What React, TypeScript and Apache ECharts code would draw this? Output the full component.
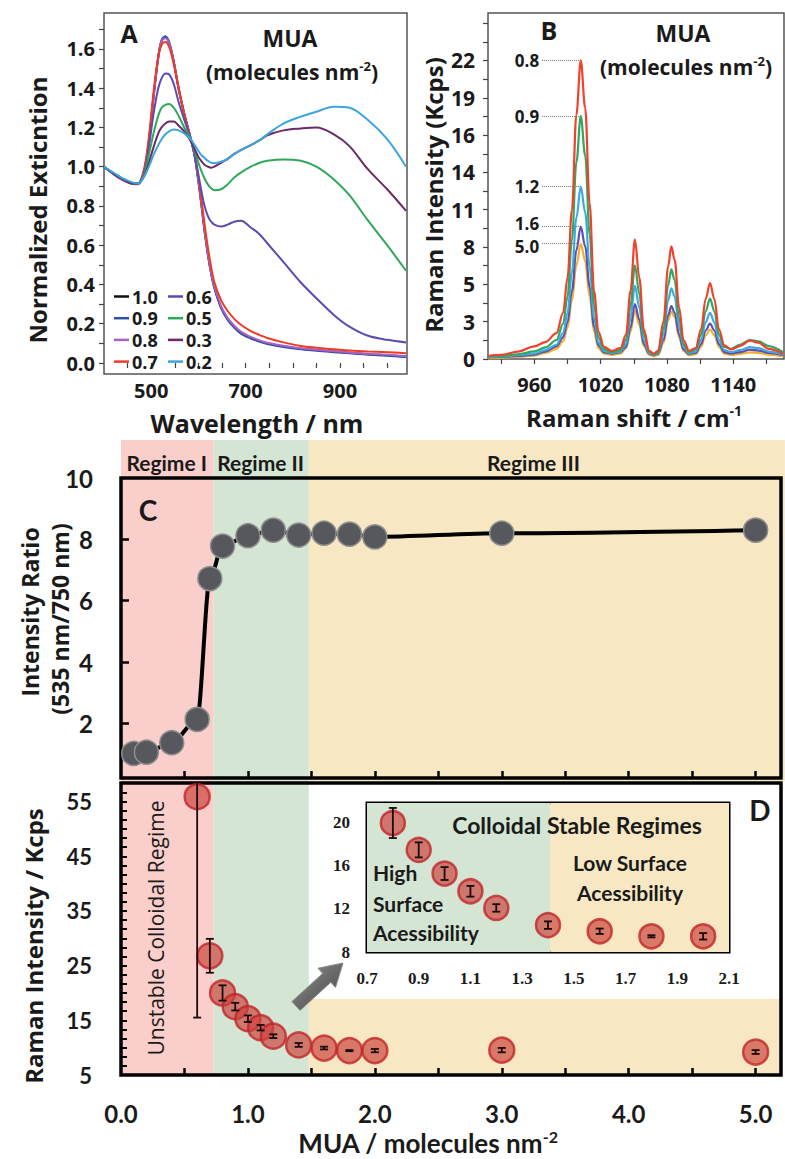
import React, { useEffect, useRef } from "react";
import * as echarts from "echarts";

// ---------------- Panel A: normalized extinction spectra ----------------
const wavelengths = [400, 420, 440, 460, 472, 485, 495, 505, 515, 522, 530, 538, 548, 558, 570, 584, 592, 600, 606, 613, 620, 627, 634, 648, 662, 676, 690, 711, 730, 746, 780, 817, 850, 887, 920, 958, 1000, 1040];
const ext10 = [1.0, 0.965, 0.935, 0.915, 0.915, 0.98, 1.13, 1.36, 1.56, 1.64, 1.66, 1.63, 1.53, 1.40, 1.27, 1.14, 1.06, 0.93, 0.82, 0.68, 0.56, 0.46, 0.385, 0.285, 0.225, 0.185, 0.155, 0.13, 0.112, 0.10, 0.085, 0.073, 0.066, 0.058, 0.052, 0.045, 0.04, 0.033];
const ext09 = [1.0, 0.965, 0.935, 0.915, 0.912, 0.975, 1.12, 1.35, 1.56, 1.645, 1.665, 1.635, 1.535, 1.40, 1.27, 1.14, 1.055, 0.925, 0.81, 0.67, 0.55, 0.455, 0.38, 0.28, 0.22, 0.18, 0.15, 0.125, 0.108, 0.097, 0.082, 0.07, 0.063, 0.055, 0.05, 0.043, 0.037, 0.03];
const ext08 = [1.0, 0.962, 0.93, 0.912, 0.91, 0.975, 1.125, 1.355, 1.555, 1.64, 1.655, 1.628, 1.53, 1.40, 1.27, 1.14, 1.06, 0.93, 0.82, 0.68, 0.56, 0.46, 0.39, 0.29, 0.23, 0.19, 0.16, 0.133, 0.115, 0.103, 0.088, 0.075, 0.068, 0.06, 0.054, 0.047, 0.042, 0.035];
const ext07 = [1.0, 0.965, 0.935, 0.915, 0.915, 0.99, 1.15, 1.38, 1.56, 1.62, 1.635, 1.61, 1.52, 1.40, 1.27, 1.14, 1.065, 0.945, 0.84, 0.71, 0.59, 0.49, 0.41, 0.32, 0.265, 0.225, 0.195, 0.163, 0.142, 0.127, 0.105, 0.087, 0.078, 0.07, 0.064, 0.059, 0.055, 0.05];
const ext06 = [1.0, 0.965, 0.935, 0.915, 0.915, 0.97, 1.1, 1.27, 1.40, 1.45, 1.475, 1.47, 1.42, 1.33, 1.24, 1.14, 1.06, 0.96, 0.88, 0.80, 0.75, 0.72, 0.705, 0.695, 0.705, 0.72, 0.725, 0.69, 0.655, 0.61, 0.515, 0.41, 0.33, 0.245, 0.185, 0.14, 0.118, 0.105];
const ext05 = [1.0, 0.965, 0.935, 0.915, 0.915, 0.96, 1.06, 1.17, 1.26, 1.30, 1.315, 1.32, 1.30, 1.26, 1.20, 1.14, 1.08, 1.02, 0.98, 0.94, 0.91, 0.89, 0.88, 0.885, 0.91, 0.945, 0.97, 1.0, 1.02, 1.03, 1.037, 1.03, 1.0, 0.935, 0.855, 0.73, 0.6, 0.47];
const ext03 = [1.0, 0.965, 0.935, 0.915, 0.915, 0.95, 1.02, 1.10, 1.17, 1.20, 1.22, 1.23, 1.23, 1.21, 1.18, 1.13, 1.09, 1.05, 1.03, 1.01, 1.0, 0.995, 1.0, 1.02, 1.04, 1.065, 1.085, 1.11, 1.135, 1.16, 1.185, 1.195, 1.2, 1.165, 1.105, 0.99, 0.885, 0.775];
const ext02 = [1.0, 0.97, 0.94, 0.92, 0.915, 0.95, 1.0, 1.06, 1.11, 1.14, 1.165, 1.18, 1.19, 1.185, 1.17, 1.14, 1.11, 1.08, 1.06, 1.045, 1.03, 1.02, 1.018, 1.025, 1.04, 1.065, 1.085, 1.11, 1.135, 1.165, 1.22, 1.255, 1.28, 1.305, 1.30, 1.24, 1.14, 1.0];
const extLabels = ["1.0", "0.9", "0.8", "0.7", "0.6", "0.5", "0.3", "0.2"];
const extColors = ["#111111", "#2f4fa8", "#a862c4", "#f03a24", "#5b4bb0", "#2fa85a", "#6c2a66", "#3aa5df"];

// ---------------- Panel B: Raman spectra ----------------
const ramanShift = [918, 930, 945, 960, 970, 980, 986, 990, 994, 998, 1002, 1006, 1010, 1014, 1018, 1023, 1030, 1038, 1043, 1047, 1051, 1055, 1059, 1064, 1068, 1072, 1077, 1081, 1084, 1087, 1091, 1095, 1100, 1106, 1111, 1115, 1119, 1123, 1127, 1132, 1138, 1146, 1155, 1163, 1172, 1185];
const raman08 = [0.22, 0.3, 0.55, 0.93, 1.25, 1.9, 3.4, 6.0, 11.0, 18.0, 22.0, 18.5, 11.5, 5.0, 2.0, 0.9, 0.6, 0.8, 1.8, 5.0, 8.8, 6.0, 2.2, 0.6, 0.4, 0.6, 2.8, 6.8, 8.3, 7.3, 3.8, 1.4, 0.6, 0.8, 2.2, 4.4, 5.6, 4.4, 2.2, 1.0, 0.7, 0.95, 1.35, 1.2, 0.75, 0.4];
const raman09 = [0.18, 0.22, 0.35, 0.56, 0.85, 1.4, 2.6, 4.6, 8.8, 14.5, 17.9, 15.0, 9.2, 4.0, 1.6, 0.75, 0.5, 0.65, 1.4, 3.9, 6.9, 4.8, 1.8, 0.55, 0.35, 0.5, 2.2, 5.4, 6.6, 5.8, 3.0, 1.1, 0.5, 0.7, 1.8, 3.5, 4.45, 3.5, 1.8, 0.9, 0.75, 1.05, 1.4, 1.3, 0.95, 0.5];
const raman12 = [0.15, 0.18, 0.28, 0.4, 0.65, 1.05, 1.9, 3.4, 6.4, 10.4, 12.7, 10.8, 6.8, 3.0, 1.2, 0.6, 0.45, 0.55, 1.1, 3.0, 5.4, 3.8, 1.4, 0.45, 0.3, 0.45, 1.8, 4.3, 5.2, 4.6, 2.4, 0.9, 0.4, 0.55, 1.4, 2.7, 3.4, 2.7, 1.4, 0.65, 0.5, 0.65, 0.88, 0.8, 0.55, 0.35];
const raman16 = [0.12, 0.15, 0.22, 0.32, 0.55, 0.93, 1.6, 2.7, 5.0, 8.0, 9.75, 8.3, 5.3, 2.4, 1.0, 0.5, 0.4, 0.5, 0.9, 2.3, 4.05, 2.9, 1.1, 0.4, 0.28, 0.4, 1.4, 3.2, 3.9, 3.4, 1.8, 0.7, 0.35, 0.45, 1.1, 2.1, 2.6, 2.1, 1.1, 0.5, 0.4, 0.5, 0.69, 0.62, 0.45, 0.3];
const raman50 = [0.08, 0.1, 0.16, 0.25, 0.45, 0.74, 1.3, 2.3, 4.3, 6.9, 8.5, 7.2, 4.6, 2.0, 0.8, 0.4, 0.3, 0.4, 0.8, 2.0, 3.58, 2.5, 0.95, 0.3, 0.2, 0.3, 1.2, 2.85, 3.5, 3.1, 1.6, 0.6, 0.28, 0.35, 0.9, 1.75, 2.16, 1.75, 0.9, 0.4, 0.3, 0.38, 0.49, 0.45, 0.32, 0.2];
const ramanLabels = ["5.0", "1.6", "1.2", "0.9", "0.8"];
const ramanPeaks = [8.5, 9.75, 12.7, 17.9, 22.0];
const ramanColors = ["#f4b02e", "#5c4fb0", "#3fa8e2", "#2fa860", "#f2402a"];
const ramanTickText = ["0", "3", "5", "8", "11", "14", "16", "19", "22"];

// ---------------- Panel C: intensity ratio ----------------
const coverageC = [0.1, 0.2, 0.4, 0.6, 0.7, 0.8, 1.0, 1.2, 1.4, 1.6, 1.8, 2.0, 3.0, 5.0];
const ratioC = [1.02, 1.06, 1.37, 2.13, 6.72, 7.78, 8.12, 8.3, 8.14, 8.2, 8.17, 8.08, 8.2, 8.3];

// ---------------- Panel D: Raman intensity ----------------
const coverageD = [0.6, 0.7, 0.8, 0.9, 1.0, 1.1, 1.2, 1.4, 1.6, 1.8, 2.0, 3.0, 5.0];
const ramanD = [55.9, 26.8, 20.0, 17.5, 15.3, 13.65, 12.1, 10.5, 9.93, 9.46, 9.46, 9.55, 9.2];
const errD = [40.4, 3.1, 1.4, 0.7, 0.6, 0.5, 0.35, 0.35, 0.25, 0.1, 0.3, 0.4, 0.35];

// regimes
const regimeEdges = [0, 0.73, 1.48, 5.23];
const regimeNames = ["Regime I", "Regime II", "Regime III"];
const regimeLabelX = [0.36, 1.1, 3.25];
const regimeColors = ["#f9cecb", "#d5e5d3", "#f7e8c3"];
const tanTopD = 18.9;
const insetEdges = [0.7, 1.41, 2.1];

const OS = "'Open Sans', sans-serif";
const LT = "Lato, sans-serif";
const SF = "'Liberation Serif', serif";
const INK = "#1a1a1a";

const steps = (a: number, b: number, s: number) => {
  const r: number[] = [];
  for (let i = 0; a + i * s <= b + 1e-9; i++) r.push(+(a + i * s).toFixed(4));
  return r;
};

const labA = { fontFamily: OS, fontWeight: "bold" as const, fontSize: 20, color: INK };
const labC = { fontFamily: LT, fontWeight: "bold" as const, fontSize: 23, color: INK };
const labIn = { fontFamily: SF, fontWeight: "bold" as const, fontSize: 17, color: INK };

function errorRender(cap: number) {
  return (params: any, api: any) => {
    const x = api.value(0);
    const lo = api.coord([x, api.value(1)]);
    const hi = api.coord([x, api.value(2)]);
    const cs = params.coordSys;
    const top = Math.max(hi[1], cs.y);
    const bot = Math.min(lo[1], cs.y + cs.height);
    const st = { stroke: "#1b0a0a", lineWidth: 1.8 };
    const ch: any[] = [{ type: "line", shape: { x1: lo[0], y1: top, x2: lo[0], y2: bot }, style: st }];
    if (hi[1] >= cs.y) ch.push({ type: "line", shape: { x1: lo[0] - cap, y1: hi[1], x2: lo[0] + cap, y2: hi[1] }, style: st });
    if (lo[1] <= cs.y + cs.height) ch.push({ type: "line", shape: { x1: lo[0] - cap, y1: lo[1], x2: lo[0] + cap, y2: lo[1] }, style: st });
    return { type: "group", children: ch };
  };
}

function txt(text: string, x: number, y: number, size: number, family: string, extra: any = {}) {
  return {
    type: "text",
    x,
    y,
    rotation: extra.rot || 0,
    z: 50,
    style: {
      text,
      fill: INK,
      fontSize: size,
      fontFamily: family,
      fontWeight: extra.weight || "bold",
      align: extra.align || "center",
      verticalAlign: "middle",
      rich: extra.rich,
    },
  };
}

function supRich(size: number, family: string) {
  return {
    b: { fontSize: size, fontFamily: family, fontWeight: "bold", fill: INK, lineHeight: size + 4 },
    s: { fontSize: Math.round(size * 0.6), fontFamily: family, fontWeight: "bold", fill: INK, verticalAlign: "top", lineHeight: Math.round(size * 0.6) },
  };
}

export default function App() {
  const ref = useRef<HTMLDivElement>(null);
  useEffect(() => {
    document.body.style.margin = "0";
    const chart = echarts.init(ref.current!, null, { renderer: "svg" });

    const extData = [ext10, ext09, ext08, ext07, ext06, ext05, ext03, ext02];
    const ramanData = [raman50, raman16, raman12, raman09, raman08];
    const labelShift = [3, -3, 0, 0, 0];

    const seriesA = extData.map((arr, i) => ({
      name: extLabels[i],
      type: "line",
      xAxisIndex: 0,
      yAxisIndex: 0,
      data: wavelengths.map((w, j) => [w, arr[j]]),
      showSymbol: false,
      smooth: 0.35,
      lineStyle: { width: 2, color: extColors[i] },
      itemStyle: { color: extColors[i] },
    }));

    const seriesB = ramanData.map((arr, i) => ({
      name: "B" + ramanLabels[i],
      type: "line",
      xAxisIndex: 1,
      yAxisIndex: 1,
      data: ramanShift.map((w, j) => [w, arr[j]]),
      showSymbol: false,
      smooth: 0.35,
      smoothMonotone: "x",
      lineStyle: { width: 2.2, color: ramanColors[i] },
      itemStyle: { color: ramanColors[i] },
      markLine: {
        silent: true,
        symbol: ["none", "none"],
        animation: false,
        lineStyle: { type: "dotted", color: "#777", width: 1 },
        label: {
          show: true, position: "start", distance: 3, formatter: ramanLabels[i], offset: [0, labelShift[i]],
          fontFamily: OS, fontWeight: "bold", fontSize: 17, lineHeight: 15, color: INK,
        },
        data: [[{ coord: [967, ramanPeaks[i]] }, { coord: [1000.5, ramanPeaks[i]] }]],
      },
    }));

    const dPoints = coverageD.map((x, i) => [x, ramanD[i]]);
    const dErr = coverageD.map((x, i) => [x, ramanD[i] - errD[i], ramanD[i] + errD[i]]);
    const inPoints = dPoints.filter((p) => p[0] >= 0.8 && p[0] <= 2.0);
    const inErr = dErr.filter((p) => p[0] >= 0.8 && p[0] <= 2.0);

    const dotStyle = { color: "rgba(203,66,60,0.85)", borderColor: "#c0262a", borderWidth: 2.5 };
    const legendText = { fontFamily: OS, fontWeight: "bold", fontSize: 18, color: INK, lineHeight: 19, padding: [0, 0, 0, -2] };

    const option: any = {
      animation: false,
      backgroundColor: "#ffffff",
      grid: [
        { left: 104, top: 13, width: 303, height: 361, show: true, borderColor: "#555", borderWidth: 1.5, backgroundColor: "transparent" },
        { left: 488, top: 13, width: 296, height: 346, show: true, borderColor: "#555", borderWidth: 1.5, backgroundColor: "transparent" },
        { left: 121, top: 478, width: 660, height: 300, show: true, borderColor: "#000", borderWidth: 3.5, backgroundColor: "transparent" },
        { left: 121, top: 783, width: 660, height: 292, show: true, borderColor: "#000", borderWidth: 3.5, backgroundColor: "transparent" },
        { left: 367, top: 803, width: 362, height: 149, show: true, borderColor: "#000", borderWidth: 3, backgroundColor: "transparent" },
      ],
      legend: [
        {
          data: extLabels.slice(0, 4), orient: "vertical", left: 109, top: 282, icon: "rect", itemWidth: 15, itemHeight: 2.5, itemGap: 2.7,
          selectedMode: false, textStyle: legendText,
        },
        {
          data: extLabels.slice(4), orient: "vertical", left: 163, top: 282, icon: "rect", itemWidth: 15, itemHeight: 2.5, itemGap: 2.7,
          selectedMode: false, textStyle: legendText,
        },
      ],
      xAxis: [
        {
          gridIndex: 0, type: "value", min: 400, max: 1042, axisLine: { show: false }, splitLine: { show: false },
          axisTick: { show: true, inside: false, length: 5, lineStyle: { color: "#444", width: 1.2 }, customValues: steps(450, 1000, 50) },
          axisLabel: { customValues: [500, 700, 900], formatter: (v: number) => String(v), margin: 6, ...labA },
        },
        {
          gridIndex: 1, type: "value", min: 918, max: 1186, axisLine: { show: false }, splitLine: { show: false },
          axisTick: { show: true, inside: false, length: 5, lineStyle: { color: "#444", width: 1.2 }, customValues: steps(930, 1170, 30) },
          axisLabel: { customValues: [960, 1020, 1080, 1140], formatter: (v: number) => String(v), margin: 15, ...labA },
        },
        {
          gridIndex: 2, type: "value", min: 0, max: 5.2, axisLine: { show: false }, splitLine: { show: false },
          axisTick: { show: true, inside: true, length: 7, lineStyle: { color: "#000", width: 2.5 }, customValues: steps(0.5, 5, 0.5) },
          axisLabel: { show: false },
        },
        {
          gridIndex: 3, type: "value", min: 0, max: 5.2, axisLine: { show: false }, splitLine: { show: false },
          axisTick: { show: true, inside: true, length: 7, lineStyle: { color: "#000", width: 2.5 }, customValues: steps(0.5, 5, 0.5) },
          axisLabel: { customValues: [0, 1, 2, 3, 4, 5], formatter: (v: number) => v.toFixed(1), margin: 26, ...labC, fontSize: 24 },
        },
        {
          gridIndex: 4, type: "value", min: 0.7, max: 2.1, axisLine: { show: false }, splitLine: { show: false },
          axisTick: { show: true, inside: true, length: 5, lineStyle: { color: "#000", width: 2 }, customValues: steps(0.9, 1.9, 0.2) },
          axisLabel: { customValues: steps(0.7, 2.1, 0.2), formatter: (v: number) => v.toFixed(1), margin: 18, ...labIn },
        },
      ],
      yAxis: [
        {
          gridIndex: 0, type: "value", min: -0.056, max: 1.783, axisLine: { show: false }, splitLine: { show: false },
          axisTick: { show: true, inside: false, length: 5, lineStyle: { color: "#444", width: 1.2 }, customValues: steps(0, 1.7, 0.1) },
          axisLabel: { customValues: steps(0, 1.6, 0.2), formatter: (v: number) => v.toFixed(1), margin: 9, ...labA },
        },
        {
          gridIndex: 1, type: "value", min: 0, max: 25.5, axisLine: { show: false }, splitLine: { show: false },
          axisTick: { show: true, inside: false, length: 5, lineStyle: { color: "#444", width: 1.2 }, customValues: steps(0, 24.75, 1.375) },
          axisLabel: { customValues: steps(0, 22, 2.75), formatter: (v: number) => ramanTickText[Math.round(v / 2.75)], margin: 13, ...labA, fontSize: 21 },
        },
        {
          gridIndex: 2, type: "value", min: 0.22, max: 10, axisLine: { show: false }, splitLine: { show: false },
          axisTick: { show: true, inside: true, length: 8, lineStyle: { color: "#000", width: 2.5 }, customValues: [2, 4, 6, 8] },
          axisLabel: { customValues: [2, 4, 6, 8, 10], margin: 28, ...labC, fontSize: 24 },
        },
        {
          gridIndex: 3, type: "value", min: 5, max: 58.4, axisLine: { show: false }, splitLine: { show: false },
          axisTick: { show: true, inside: true, length: 6, lineStyle: { color: "#000", width: 2 }, customValues: steps(5, 58, 10 / 6) },
          axisLabel: { customValues: steps(5, 55, 10), margin: 29, ...labC, fontSize: 22 },
        },
        {
          gridIndex: 4, type: "value", min: 8, max: 21.86, axisLine: { show: false }, splitLine: { show: false },
          axisTick: { show: true, inside: true, length: 5, lineStyle: { color: "#000", width: 2 }, customValues: [12, 16, 20] },
          axisLabel: { customValues: [8, 12, 16, 20], margin: 17, ...labIn },
        },
      ],
      series: [
        ...seriesA,
        ...seriesB,
        {
          name: "ratio", type: "line", xAxisIndex: 2, yAxisIndex: 2,
          data: coverageC.map((x, i) => [x, ratioC[i]]),
          symbol: "circle", symbolSize: 24, smooth: 0.3, smoothMonotone: "x",
          lineStyle: { color: "#000", width: 4 },
          itemStyle: { color: "#56585d", borderColor: "#8e8e8e", borderWidth: 1.5 },
          z: 3,
        },
        {
          name: "ramanD", type: "scatter", xAxisIndex: 3, yAxisIndex: 3, data: dPoints,
          symbolSize: 25, itemStyle: dotStyle, z: 3,
        },
        {
          name: "errD", type: "custom", xAxisIndex: 3, yAxisIndex: 3, data: dErr,
          encode: { x: 0, y: [1, 2] }, renderItem: errorRender(4), z: 4,
        },
        {
          name: "inset", type: "scatter", xAxisIndex: 4, yAxisIndex: 4, data: inPoints,
          symbolSize: 24, itemStyle: dotStyle, z: 3,
          markArea: {
            silent: true,
            data: [
              [{ xAxis: insetEdges[0], itemStyle: { color: regimeColors[1] } }, { xAxis: insetEdges[1] }],
              [{ xAxis: insetEdges[1], itemStyle: { color: regimeColors[2] } }, { xAxis: insetEdges[2] }],
            ],
          },
        },
        {
          name: "insetErr", type: "custom", xAxisIndex: 4, yAxisIndex: 4, data: inErr,
          encode: { x: 0, y: [1, 2] }, renderItem: errorRender(4), z: 4,
        },
      ],
    };

    chart.setOption(option);

    const px = (g: number, x: number, y: number) => chart.convertToPixel({ gridIndex: g } as any, [x, y]) as number[];
    const cTop = 440;
    const cBot = px(2, 0, 0.22)[1];
    const dBot = px(3, 0, 5)[1];
    const e = regimeEdges.map((v) => px(2, v, 5)[0]);
    const rect = (x0: number, y0: number, x1: number, y1: number, color: string) => ({
      type: "rect", z: -10, silent: true, shape: { x: x0, y: y0, width: x1 - x0, height: y1 - y0 }, style: { fill: color },
    });
    const bgs = [
      rect(e[0], cTop, e[1], dBot, regimeColors[0]),
      rect(e[1], cTop, e[2], dBot, regimeColors[1]),
      rect(e[2], cTop, e[3], cBot + 3, regimeColors[2]),
      rect(e[2], px(3, 0, tanTopD)[1], px(3, 5.2, 5)[0], dBot, regimeColors[2]),
    ];
    const regimeTexts = regimeNames.map((n, i) => txt(n, px(2, regimeLabelX[i], 5)[0], 462, 21, LT));

    // arrow
    const T = [296, 1006];
    const P = [343, 963];
    const L = Math.hypot(P[0] - T[0], P[1] - T[1]);
    const u = [(P[0] - T[0]) / L, (P[1] - T[1]) / L];
    const n = [-u[1], u[0]];
    const B = [T[0] + u[0] * (L - 22), T[1] + u[1] * (L - 22)];
    const pt = (b: number[], k: number) => [b[0] + n[0] * k, b[1] + n[1] * k];
    const arrow = {
      type: "polygon", z: 40,
      shape: { points: [pt(T, 6), pt(B, 6), pt(B, 13), P, pt(B, -13), pt(B, -6), pt(T, -6)] },
      style: {
        fill: new echarts.graphic.LinearGradient(0, 0, 1, 1, [
          { offset: 0, color: "#9a9a9a" },
          { offset: 0.5, color: "#6a6a6a" },
          { offset: 1, color: "#4a4a4a" },
        ]),
        stroke: "#8a8a8a",
        lineWidth: 1,
      },
    };

    const graphics: any[] = [
      ...bgs,
      txt("A", 129, 33, 25, OS),
      txt("MUA", 290, 38, 23, OS),
      txt("{b|(molecules nm}{s|-2}{b|)}", 292, 72, 21, OS, { rich: supRich(21, OS) }),
      txt("B", 549, 30, 25, OS),
      txt("MUA", 683, 33, 23, OS),
      txt("{b|(molecules nm}{s|-2}{b|)}", 686, 67, 21, OS, { rich: supRich(21, OS) }),
      txt("Wavelength / nm", 257, 423, 25, OS),
      txt("Normalized Exticntion", 37, 210, 24, OS, { rot: Math.PI / 2 }),
      txt("Raman Intensity (Kcps)", 433, 195, 24, OS, { rot: Math.PI / 2 }),
      txt("{b|Raman shift / cm}{s|-1}", 634, 417, 24, OS, { rich: supRich(24, OS) }),
      txt("C", 148, 510, 28, LT),
      ...regimeTexts,
      txt("Intensity Ratio", 30, 612, 23, OS, { rot: Math.PI / 2 }),
      txt("(535 nm/750 nm)", 60, 619, 23, OS, { rot: Math.PI / 2 }),
      txt("Raman Intensity / Kcps", 33, 946, 24, OS, { rot: Math.PI / 2 }),
      txt("Unstable Colloidal Regime", 156, 928, 21, OS, { rot: Math.PI / 2, weight: "normal" }),
      txt("D", 760, 810, 28, LT),
      txt("Colloidal Stable Regimes", 577, 825, 23, LT),
      txt("High", 373, 872, 21, LT, { align: "left" }),
      txt("Surface", 373, 903, 21, LT, { align: "left" }),
      txt("Acessibility", 373, 932, 21, LT, { align: "left" }),
      txt("Low Surface", 630, 862, 21, LT),
      txt("Acessibility", 630, 892, 21, LT),
      txt("{b|MUA / molecules nm}{s|-2}", 428, 1143, 26, LT, { rich: supRich(26, LT) }),
      arrow,
    ];
    chart.setOption({ graphic: graphics });

    return () => chart.dispose();
  }, []);
  return <div ref={ref} style={{ width: 785, height: 1159 }} />;
}
